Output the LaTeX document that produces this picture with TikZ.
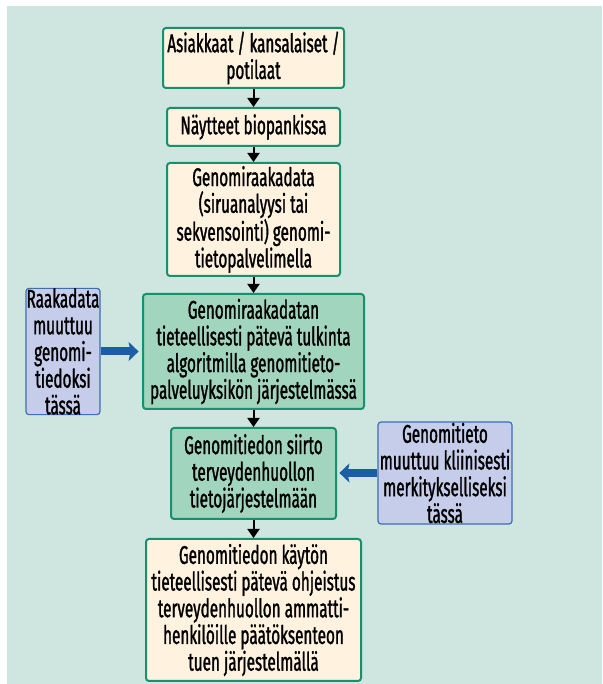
\documentclass[tikz,border=0pt]{standalone}
\usepackage{fontspec}
\setmainfont[FakeStretch=0.6,FakeBold=1.2]{Fira Sans}
\usetikzlibrary{arrows.meta}
\definecolor{bgmint}{HTML}{CFE5DF}
\definecolor{cream}{HTML}{FFF3E0}
\definecolor{stepgreen}{HTML}{A2D5BD}
\definecolor{edgegreen}{HTML}{17906E}
\definecolor{noteblue}{HTML}{C5CDEA}
\definecolor{edgeblue}{HTML}{3C6EB4}
\definecolor{arrowblue}{HTML}{1B5EA6}
\tikzset{
	flowbox/.style={rectangle, rounded corners=3pt, draw=edgegreen, line width=2pt, fill=cream, align=center, inner sep=0pt, font=\fontsize{25.5}{26.7}\selectfont},
	greenbox/.style={flowbox, fill=stepgreen},
	notebox/.style={rectangle, rounded corners=3pt, draw=edgeblue, line width=1.2pt, fill=noteblue, align=center, inner sep=0pt, font=\fontsize{25.5}{26.7}\selectfont},
	flowarrow/.style={line width=2pt, -{Triangle[length=9pt,width=12pt]}},
	notearrow/.style={line width=8pt, arrowblue, -{Stealth[length=10pt,width=19pt,inset=2pt]}}
}
\begin{document}
\begin{tikzpicture}[x=1pt,y=1pt]
	\useasboundingbox (0,0) rectangle (602,684);
	\fill [bgmint] (7,0) rectangle (602,678);
	% main chain
	\node [flowbox, minimum width=181pt, minimum height=60pt] (people) at (253.5,626) {Asiakkaat / kansalaiset /\\potilaat};
	\node [flowbox, minimum width=173pt, minimum height=38pt] (samples) at (253.5,557) {Näytteet biopankissa};
	\node [flowbox, minimum width=173pt, minimum height=113pt] (rawdata) at (253.5,464.5) {Genomiraakadata\\(siruanalyysi tai\\sekvensointi) genomi-\\tietopalvelimella};
	\node [greenbox, minimum width=221pt, minimum height=115pt] (interp) at (253.5,332.5) {Genomiraakadatan\\tieteellisesti pätevä tulkinta\\algoritmilla genomitieto-\\palveluyksikön järjestelmässä};
	\node [greenbox, minimum width=165pt, minimum height=91pt] (transfer) at (253.5,210.5) {Genomitiedon siirto\\terveydenhuollon\\tietojärjestelmään};
	\node [flowbox, minimum width=215pt, minimum height=142pt] (guidance) at (253.5,74) {Genomitiedon käytön\\tieteellisesti pätevä ohjeistus\\terveydenhuollon ammatti-\\henkilöille päätöksenteon\\tuen järjestelmällä};
	% side notes
	\node [notebox, minimum width=74pt, minimum height=125pt] (rawnote) at (63,332.5) {Raakadata\\muuttuu\\genomi-\\tiedoksi\\tässä};
	\node [notebox, minimum width=134pt, minimum height=102pt] (clinnote) at (445,211) {Genomitieto\\muuttuu kliinisesti\\merkitykselliseksi\\tässä};
	% arrows
	\draw [flowarrow] (people) -- (samples);
	\draw [flowarrow] (samples) -- (rawdata);
	\draw [flowarrow] (rawdata) -- (interp);
	\draw [flowarrow] (interp) -- (transfer);
	\draw [flowarrow] (transfer) -- (guidance);
	\draw [notearrow] (rawnote.east) -- ++(38,0);
	\draw [notearrow] (clinnote.west) -- ++(-38,0);
\end{tikzpicture}
\end{document}
